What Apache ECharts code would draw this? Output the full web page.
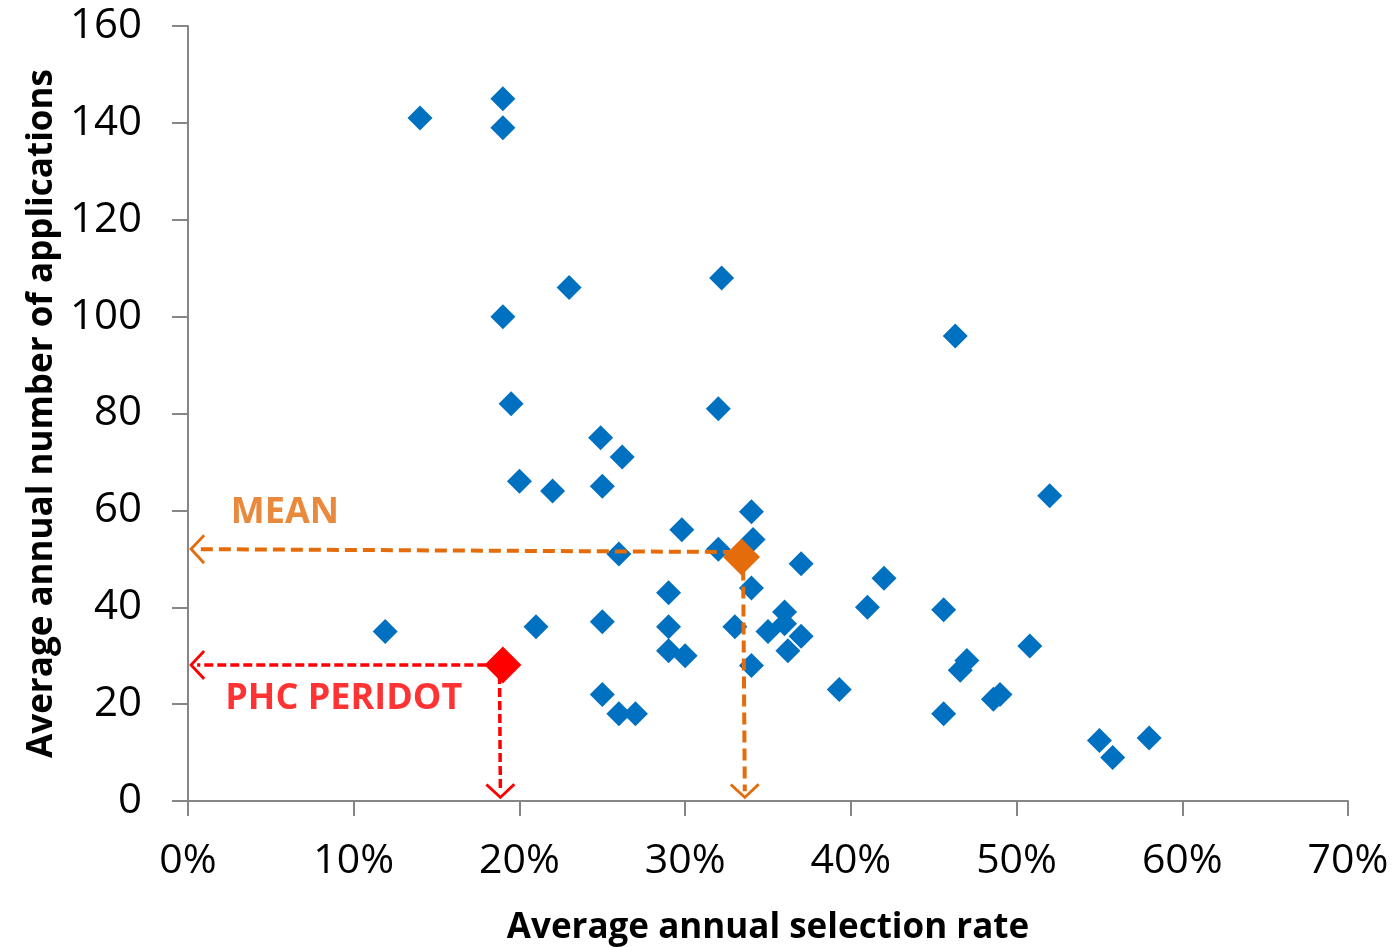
<!DOCTYPE html>
<html>
<head>
<meta charset="utf-8">
<script src="https://cdn.jsdelivr.net/npm/echarts@6/dist/echarts.min.js"></script>
<style>
html,body{margin:0;padding:0;background:#fff;}
#chart{width:1397px;height:947px;}
</style>
</head>
<body>
<div id="chart"></div>
<script>
// Blue points: average annual selection rate (%) and average annual number of applications
const selectionRate = [14.0,19.0,19.0,23.0,32.2,19.0,46.3,19.5,32.0,24.9,26.2,20.0,22.0,25.0,52.0,34.0,29.8,34.1,32.0,26.0,37.0,42.0,29.0,34.0,41.0,45.6,36.0,11.9,21.0,25.0,29.0,33.0,35.0,36.0,37.0,36.2,29.0,30.0,34.0,39.3,25.0,26.0,27.0,45.6,47.0,46.6,50.8,49.0,48.6,55.0,55.8,58.0];
const applications = [141,145,139,106,108,100,96,82,81,75,71,66,64,65,63,59.7,56,54,52,51,49,46,43,44,40,39.5,39,35,36,37,36,36,35,36.6,34,31,31,30,28,23,22,18,18,18,29,27,32,22,21,12.5,9,13];
const meanPoint = [33.4, 50.4];
const peridotPoint = [19.0, 28.1];
const meanGuide = {hStart:[33.0,51.4], hEnd:[0.55,52.0], vStart:[33.5,48], vEnd:[33.6,2.0]};
const peridotGuide = {hStart:[18.0,28.1], hEnd:[0.55,28.1], vStart:[18.8,26], vEnd:[18.85,2.0]};
const labelMean = [5.85, 59.6, 'MEAN'];
const labelPeridot = [9.4, 21.2, 'PHC PERIDOT'];
const xTicks = {min:0, max:70, interval:10};
const yTicks = {min:0, max:160, interval:20};

const FONT = '"Open Sans", "Liberation Sans", sans-serif';
const chevron = 'path://M10,0 L20,10 L18.6,11.4 L10,2.8 L1.4,11.4 L0,10 Z';

const chart = echarts.init(document.getElementById('chart'), null, {renderer:'canvas'});
const axisGray = '#868686';

function guide(start, end, color, width, dash) {
  const ls = {color:color, width:width, type:dash, opacity:1};
  return [
    {coord:start, lineStyle:ls, itemStyle:{color:color}},
    {coord:end, lineStyle:ls, itemStyle:{color:color}}
  ];
}

chart.setOption({
  animation: false,
  backgroundColor: '#ffffff',
  grid: {left:188, right:49, top:26, bottom:146, containLabel:false, outerBoundsMode:'none'},
  xAxis: {
    type:'value', min:xTicks.min, max:xTicks.max, interval:xTicks.interval,
    axisLine:{show:true, onZero:false, lineStyle:{color:axisGray, width:2}},
    axisTick:{show:true, length:15, lineStyle:{color:axisGray, width:2}},
    splitLine:{show:false},
    axisLabel:{color:'#000', fontFamily:FONT, fontSize:41, margin:40, formatter: v => v + '%'},
    name:'Average annual selection rate', nameLocation:'middle', nameGap:110,
    nameTextStyle:{color:'#000', fontFamily:FONT, fontSize:35, fontWeight:'bold'}
  },
  yAxis: {
    type:'value', min:yTicks.min, max:yTicks.max, interval:yTicks.interval,
    axisLine:{show:true, onZero:false, lineStyle:{color:axisGray, width:2}},
    axisTick:{show:true, length:16, lineStyle:{color:axisGray, width:2}},
    splitLine:{show:false},
    axisLabel:{color:'#000', fontFamily:FONT, fontSize:42, margin:46},
    name:'Average annual number of applications', nameLocation:'middle', nameGap:128, nameRotate:90,
    nameTextStyle:{color:'#000', fontFamily:FONT, fontSize:35, fontWeight:'bold'}
  },
  series: [
    {
      type:'scatter', name:'programs', z:2,
      symbol:'diamond', symbolSize:25,
      itemStyle:{color:'#0070C0', opacity:1},
      data: selectionRate.map((x,i)=>[x, applications[i]])
    },
    {
      type:'scatter', name:'guides', z:3, symbolSize:0,
      data:[],
      markLine:{
        silent:true, animation:false,
        symbol:['none', chevron], symbolSize:[30,16],
        lineStyle:{width:4, opacity:1},
        label:{show:false},
        emphasis:{disabled:true},
        data:[
          guide(meanGuide.hStart, meanGuide.hEnd, '#E46C0A', 4, [12,6]),
          guide(meanGuide.vStart, meanGuide.vEnd, '#E46C0A', 4, [12,6]),
          guide(peridotGuide.hStart, peridotGuide.hEnd, '#FF0000', 3.5, [9,4]),
          guide(peridotGuide.vStart, peridotGuide.vEnd, '#FF0000', 3.5, [9,4])
        ]
      }
    },
    {
      type:'scatter', name:'mean', z:4, symbol:'diamond', symbolSize:37,
      itemStyle:{color:'#E46C0A', opacity:1}, data:[meanPoint]
    },
    {
      type:'scatter', name:'peridot', z:4, symbol:'diamond', symbolSize:37,
      itemStyle:{color:'#FF0000', opacity:1}, data:[peridotPoint]
    },
    {
      type:'scatter', name:'labels', z:5, symbolSize:0, silent:true,
      data:[
        {value:labelMean, label:{show:true, position:'inside', formatter:p=>p.value[2], color:'#E46C0A', fontFamily:FONT, fontSize:36, fontWeight:'bold'}},
        {value:labelPeridot, label:{show:true, position:'inside', formatter:p=>p.value[2], color:'#FF0000', fontFamily:FONT, fontSize:36, fontWeight:'bold'}}
      ]
    }
  ]
});
</script>
</body>
</html>
